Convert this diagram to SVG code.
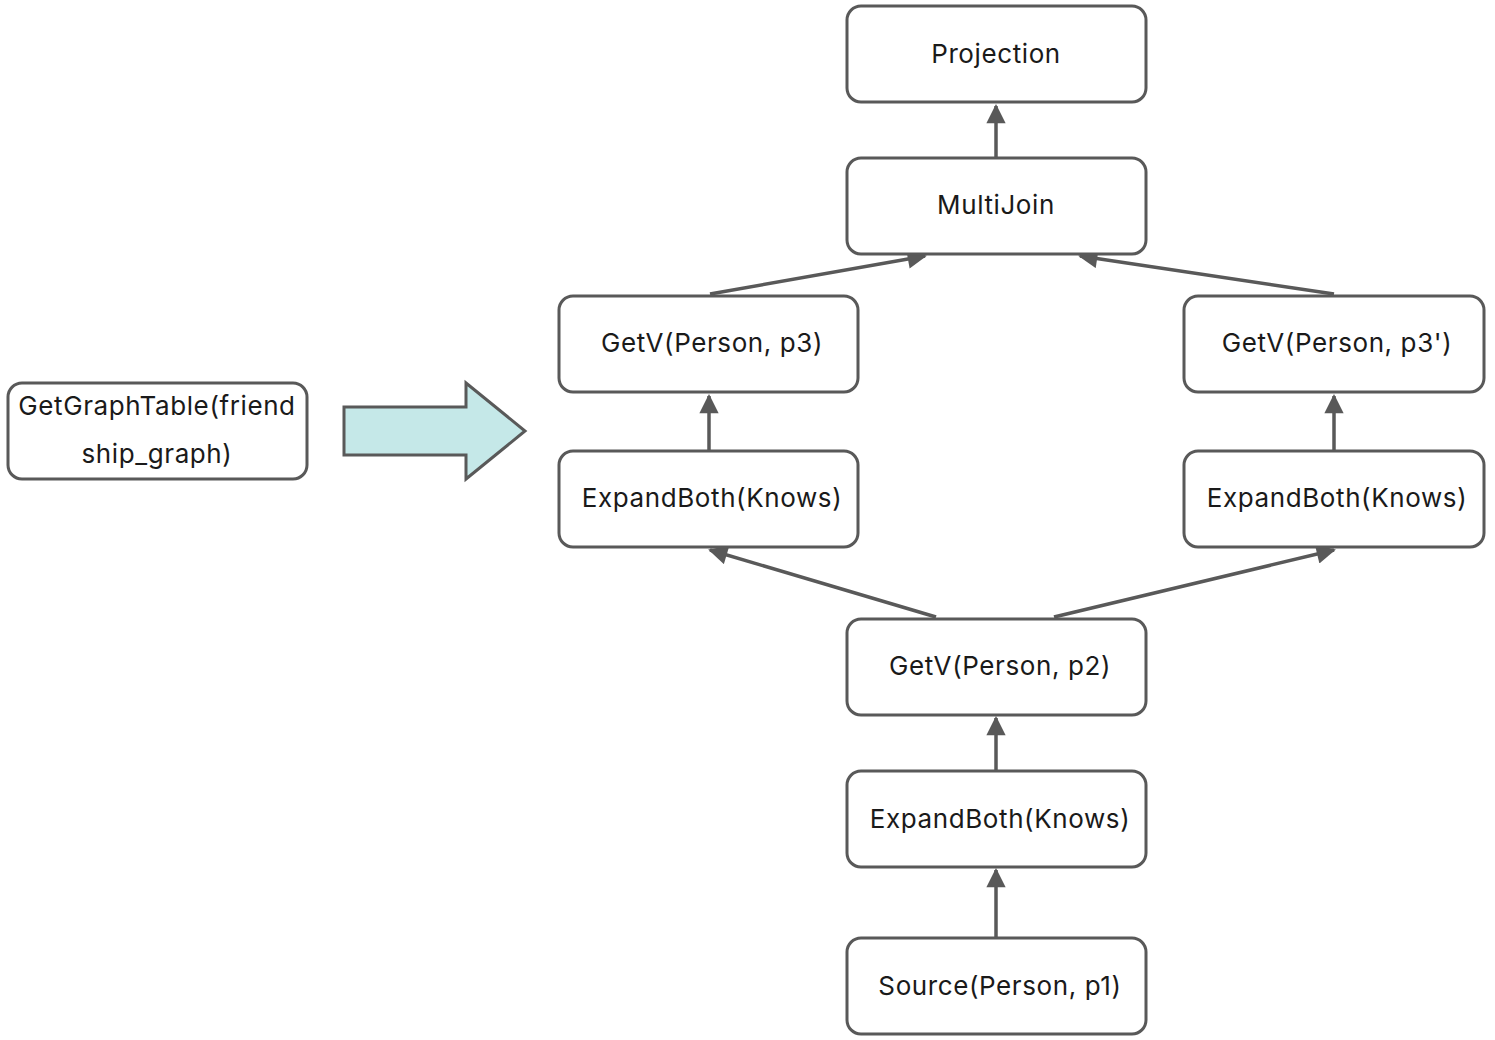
<svg xmlns="http://www.w3.org/2000/svg" width="1495" height="1040" viewBox="0 0 1495 1040">
<defs>
<style>
.n rect{fill:#fff;stroke:#595959;stroke-width:3}
.n text{font-family:Inter,"Liberation Sans",sans-serif;font-size:26px;letter-spacing:0.6px;fill:#1a1a1a;text-anchor:middle}
.c line{stroke:#595959;stroke-width:3.5;fill:none}
</style>
<marker id="ah" viewBox="0 0 10 10" refX="9" refY="5" markerWidth="6" markerHeight="5.5" markerUnits="strokeWidth" orient="auto">
<path d="M0,0 L10,5 L0,10 z" fill="#595959"/>
</marker>
</defs>
<rect width="1495" height="1040" fill="#fff"/>
<g id="connectors" class="c">
<line x1="996" y1="157" x2="996" y2="106" marker-end="url(#ah)"/>
<line x1="710" y1="294" x2="925" y2="256" marker-end="url(#ah)"/>
<line x1="1334" y1="294" x2="1080" y2="256" marker-end="url(#ah)"/>
<line x1="709" y1="450" x2="709" y2="396" marker-end="url(#ah)"/>
<line x1="1334" y1="450" x2="1334" y2="396" marker-end="url(#ah)"/>
<line x1="936" y1="617" x2="710" y2="550" marker-end="url(#ah)"/>
<line x1="1054" y1="617" x2="1334" y2="550" marker-end="url(#ah)"/>
<line x1="996" y1="770" x2="996" y2="718" marker-end="url(#ah)"/>
<line x1="996" y1="937" x2="996" y2="870" marker-end="url(#ah)"/>
</g>
<g id="bigarrow">
<polygon points="344,407 466,407 466,383 525,431 466,479 466,455 344,455" fill="#c5e8e8" stroke="#595959" stroke-width="3" stroke-linejoin="miter"/>
</g>
<g id="projection" class="n"><rect x="847" y="6" width="299" height="96" rx="14"/><text x="996" y="63">Projection</text></g>
<g id="multijoin" class="n"><rect x="847" y="158" width="299" height="96" rx="14"/><text x="996" y="214">MultiJoin</text></g>
<g id="getv-p3" class="n"><rect x="559" y="296" width="299" height="96" rx="14"/><text x="712" y="352">GetV(Person, p3)</text></g>
<g id="getv-p3b" class="n"><rect x="1184" y="296" width="300" height="96" rx="14"/><text x="1337" y="352">GetV(Person, p3')</text></g>
<g id="expand-left" class="n"><rect x="559" y="451" width="299" height="96" rx="14"/><text x="712" y="507">ExpandBoth(Knows)</text></g>
<g id="expand-right" class="n"><rect x="1184" y="451" width="300" height="96" rx="14"/><text x="1337" y="507">ExpandBoth(Knows)</text></g>
<g id="getv-p2" class="n"><rect x="847" y="619" width="299" height="96" rx="14"/><text x="1000" y="675">GetV(Person, p2)</text></g>
<g id="expand-mid" class="n"><rect x="847" y="771" width="299" height="96" rx="14"/><text x="1000" y="828">ExpandBoth(Knows)</text></g>
<g id="source" class="n"><rect x="847" y="938" width="299" height="96" rx="14"/><text x="1000" y="995">Source(Person, p1)</text></g>
<g id="getgraphtable" class="n"><rect x="8" y="383" width="299" height="96" rx="14"/><text x="157" y="415">GetGraphTable(friend</text><text x="157" y="463">ship_graph)</text></g>
</svg>
